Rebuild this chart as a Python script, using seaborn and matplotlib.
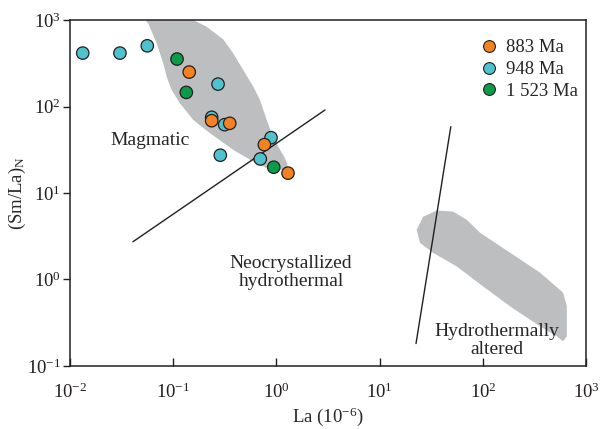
import numpy as np
import pandas as pd
import matplotlib
matplotlib.use("Agg")
import matplotlib.pyplot as plt
from matplotlib.lines import Line2D
import seaborn as sns

# Sample groups (La in ppm, chondrite-normalised Sm/La)
la_883 = [0.143, 0.236, 0.353, 0.764, 1.295]
smla_883 = [251, 68.7, 64.1, 36.3, 17.0]
la_948 = [0.0133, 0.0305, 0.0561, 0.272, 0.236, 0.315, 0.887, 0.286, 0.698]
smla_948 = [416, 416, 505, 182, 75.2, 61.8, 43.7, 27.4, 24.8]
la_1523 = [0.109, 0.134, 0.942]
smla_1523 = [355, 146, 19.9]
groups = ["883 Ma", "948 Ma", "1 523 Ma"]
colors = ["#F58220", "#4EC3CE", "#0B9C4A"]

# Reference fields, outlines in log10 units (log La, log (Sm/La)N)
magmatic_logx = [-0.854, -0.675, -0.5145, -0.418, -0.321, -0.224, -0.159, -0.094,
                 -0.046, 0.018, 0.083, 0.110, 0.083, 0.003, -0.094, -0.224, -0.418,
                 -0.643, -0.805, -0.934, -1.015, -1.063, -1.096, -1.160, -1.241,
                 -1.299, -1.31, -0.86]
magmatic_logy = [3.031, 2.923, 2.777, 2.615, 2.423, 2.230, 2.076, 1.845,
                 1.691, 1.537, 1.403, 1.317, 1.276, 1.260, 1.288, 1.364, 1.499,
                 1.692, 1.845, 2.038, 2.192, 2.345, 2.500, 2.731, 2.962,
                 3.038, 3.10, 3.10]
hydro_logx = [1.359, 1.421, 1.553, 1.711, 1.844, 1.973, 2.264, 2.554, 2.777,
              2.813, 2.813, 2.777, 2.716, 2.554, 2.264, 2.002, 1.747, 1.517, 1.391]
hydro_logy = [0.575, 0.725, 0.798, 0.786, 0.691, 0.540, 0.309, 0.079, -0.152,
              -0.311, -0.657, -0.715, -0.657, -0.542, -0.311, -0.080, 0.151, 0.309, 0.425]

# Discrimination boundaries
line1_la = [0.0407, 2.96]
line1_smla = [2.73, 91.5]
line2_la = [22.5, 48.9]
line2_smla = [0.1816, 58.6]

df = pd.DataFrame({
    "La": la_948 + la_1523 + la_883,
    "SmLa": smla_948 + smla_1523 + smla_883,
    "Age": ["948 Ma"] * len(la_948) + ["1 523 Ma"] * len(la_1523) + ["883 Ma"] * len(la_883),
})

sns.set_style("ticks")
plt.rcParams["font.family"] = ["Liberation Serif", "DejaVu Serif"]
plt.rcParams["mathtext.fontset"] = "custom"
plt.rcParams["mathtext.rm"] = "Liberation Serif"
plt.rcParams["mathtext.it"] = "Liberation Serif:italic"

fig = plt.figure(figsize=(6.03, 4.29), dpi=100)
ax = fig.add_axes([0.116, 0.147, 0.856, 0.806])
ax.set_xscale("log")
ax.set_yscale("log")
ax.set_xlim(1e-2, 1e3)
ax.set_ylim(1e-1, 1e3)

field_color = "#BDBEC0"
ax.fill(10 ** np.array(magmatic_logx), 10 ** np.array(magmatic_logy),
        color=field_color, lw=0, zorder=1)
ax.fill(10 ** np.array(hydro_logx), 10 ** np.array(hydro_logy),
        color=field_color, lw=0, zorder=1)

ax.plot(line1_la, line1_smla, color="#231F20", lw=1.0, zorder=2)
ax.plot(line2_la, line2_smla, color="#231F20", lw=1.0, zorder=2)

sns.scatterplot(data=df, x="La", y="SmLa", hue="Age", hue_order=groups,
                palette=colors, s=80, edgecolor="#231F20", linewidth=0.9,
                zorder=3, ax=ax, legend=False)

fs = 14
ax.text(0.0596, 40.1, "Magmatic", fontsize=fs, ha="center", va="center")
ax.text(1.385, 1.2, "Neocrystallized\nhydrothermal", fontsize=fs,
        ha="center", va="center", linespacing=1.1)
ax.text(137, 0.196, "Hydrothermally\naltered", fontsize=fs,
        ha="center", va="center", linespacing=1.1)

handles = [Line2D([], [], marker="o", ls="", markersize=8.5, markerfacecolor=c,
                  markeredgecolor="#231F20", markeredgewidth=0.8) for c in colors]
ax.legend(handles, groups, loc="upper right", frameon=False, fontsize=13.5,
          handletextpad=0.3, labelspacing=0.25, borderaxespad=0.6,
          bbox_to_anchor=(1.021, 0.999), handlelength=1.2)

ax.set_xlabel("La (10$^{-6}$)", fontsize=13.5, va="center")
ax.set_ylabel("(Sm/La)$_{\\mathrm{N}}$", fontsize=13.5, va="center")
ax.xaxis.set_label_coords(0.5, -0.147)
ax.yaxis.set_label_coords(-0.101, 0.5)

ax.minorticks_off()
ax.tick_params(axis="x", which="major", direction="in", length=6, width=1,
               labelsize=13.5, pad=12, colors="#231F20")
ax.tick_params(axis="y", which="major", direction="out", length=5, width=1,
               labelsize=13.5, pad=1.5, colors="#231F20")
ax.set_xticks([1e-2, 1e-1, 1e0, 1e1, 1e2, 1e3])
ax.set_yticks([1e-1, 1e0, 1e1, 1e2, 1e3])
for sp in ax.spines.values():
    sp.set_linewidth(1.1)
    sp.set_color("#231F20")

fig.savefig("out.png", dpi=100)
